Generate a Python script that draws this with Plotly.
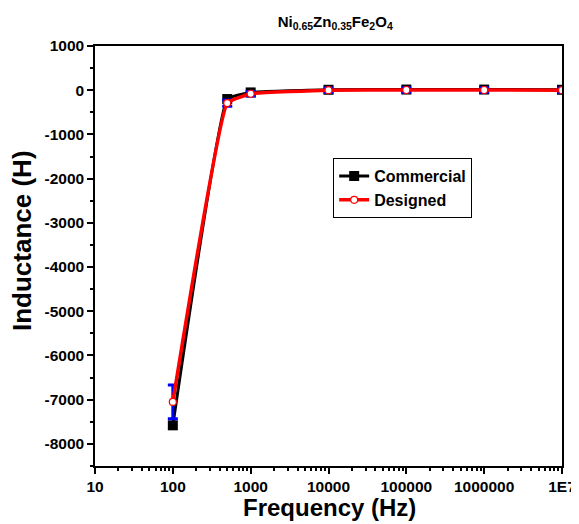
import plotly.graph_objects as go

freq = [100, 500, 1000, 10000, 100000, 1000000, 10000000]
commercial = [-7580, -200, -50, 10, 15, 15, 10]
designed = [-7050, -290, -80, 0, 5, 5, 0]
designed_err = [380, 70, 50, 50, 50, 50, 50]

x_tickvals = [10, 100, 1000, 10000, 100000, 1000000, 10000000]
x_ticklabels = ["10", "100", "1000", "10000", "100000", "1000000", "1E7"]
y_tickvals = list(range(-8000, 1001, 1000))

font = "Liberation Sans, Arial, sans-serif"

fig = go.Figure()
fig.add_trace(go.Scatter(
    x=freq, y=commercial, name="Commercial", mode="lines+markers",
    line=dict(color="black", width=3, shape="spline", smoothing=0.3),
    marker=dict(symbol="square", size=10, color="black"),
))
fig.add_trace(go.Scatter(
    x=freq, y=designed, name="Designed", mode="lines+markers",
    line=dict(color="#ff0000", width=3.5, shape="spline", smoothing=0.3),
    marker=dict(symbol="circle", size=7, color="white", line=dict(color="#ff0000", width=1.2)),
    error_y=dict(type="data", array=designed_err, visible=True, color="#0000ff", thickness=3, width=5),
))

fig.update_layout(
    width=571, height=516,
    margin=dict(l=87, r=17, t=38, b=58),
    paper_bgcolor="white", plot_bgcolor="white",
    font=dict(family=font, color="black"),
    title=dict(text="<b>Ni<sub>0.65</sub>Zn<sub>0.35</sub>Fe<sub>2</sub>O<sub>4</sub></b>",
               x=0.573, xanchor="center", y=0.973, yanchor="middle", font=dict(size=15)),
    showlegend=True,
    legend=dict(x=0.51, y=0.733, xanchor="left", yanchor="top",
                bordercolor="black", borderwidth=1, bgcolor="white",
                font=dict(size=16, family=font, weight="bold"), tracegroupgap=2),
    annotations=[
        dict(text="<b>Frequency (Hz)</b>", xref="paper", yref="paper", x=0.503, y=-0.098,
             xanchor="center", yanchor="middle", showarrow=False, font=dict(size=24)),
        dict(text="<b>Inductance (H)</b>", xref="paper", yref="paper", x=-0.156, y=0.536,
             xanchor="center", yanchor="middle", showarrow=False, textangle=-90, font=dict(size=26)),
    ],
)
fig.update_xaxes(
    type="log", range=[1, 7], automargin=False,
    tickvals=x_tickvals,
    ticktext=["<b>%s</b>" % t for t in x_ticklabels],
    ticks="outside", ticklen=6, tickwidth=1.5, tickcolor="black",
    minor=dict(ticks="outside", ticklen=3, tickcolor="black", dtick="D1"),
    showline=True, linecolor="black", linewidth=1.5, mirror=True,
    showgrid=False, zeroline=False,
    tickfont=dict(size=15.5),
)
fig.update_yaxes(
    range=[-8500, 1000], automargin=False,
    tickvals=y_tickvals,
    ticktext=["<b>%d</b>" % v for v in y_tickvals],
    ticks="outside", ticklen=6, tickwidth=1.5, tickcolor="black",
    minor=dict(ticks="outside", ticklen=3, tickcolor="black", dtick=500),
    showline=True, linecolor="black", linewidth=1.5, mirror=True,
    showgrid=False, zeroline=False,
    tickfont=dict(size=15.5),
)

fig.write_html("out.html")
